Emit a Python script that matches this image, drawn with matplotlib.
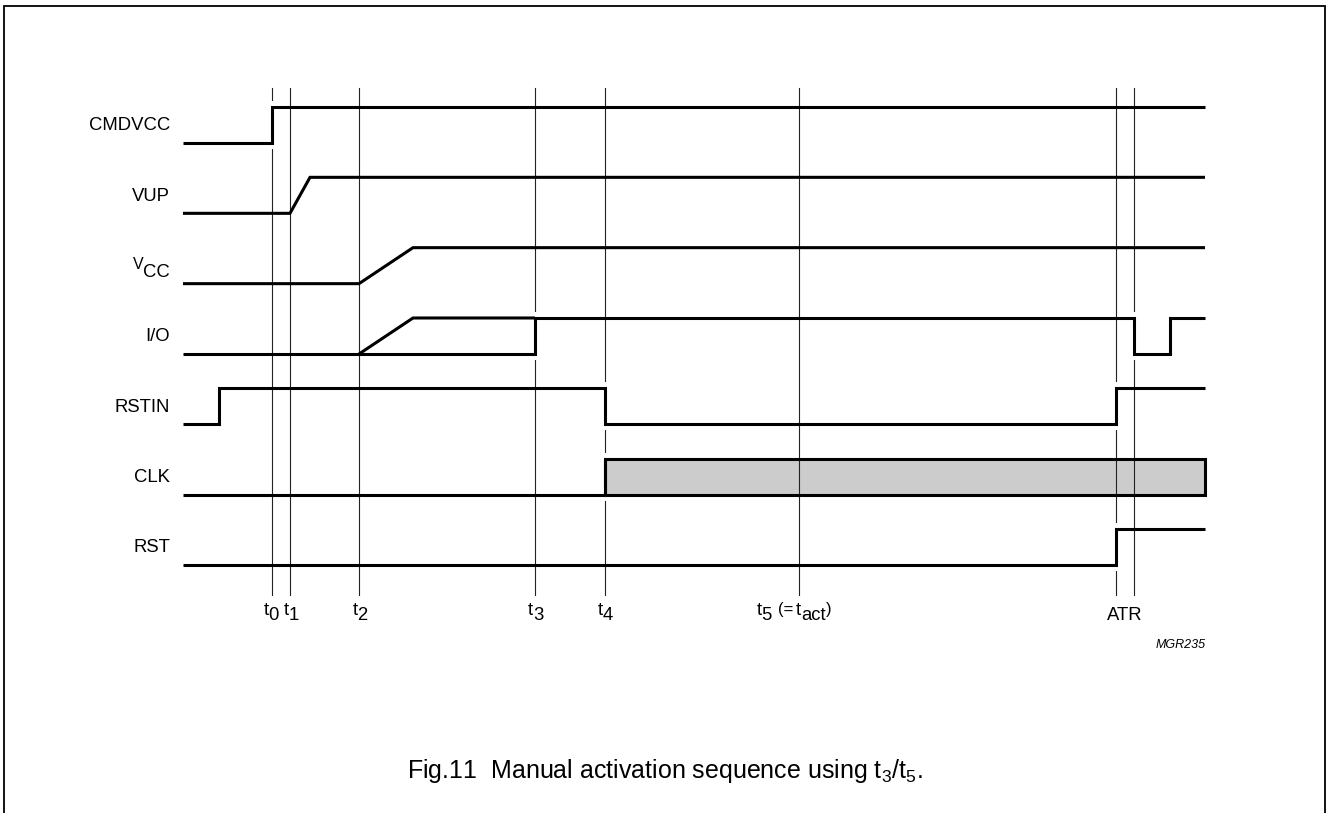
import numpy as np
import matplotlib.pyplot as plt
from matplotlib.patches import Rectangle
from matplotlib.transforms import offset_copy

plt.rcParams['font.family'] = ['Liberation Sans', 'DejaVu Sans']
plt.rcParams['mathtext.fontset'] = 'custom'
plt.rcParams['mathtext.rm'] = 'Liberation Sans'
plt.rcParams['mathtext.it'] = 'Liberation Sans:italic'

# signal names (top to bottom); V_CC is built from pieces below
signals = ['CMDVCC', 'VUP', None, 'I/O', 'RSTIN', 'CLK', 'RST']

# event times (horizontal position units of the diagram)
t_marks = [272, 290, 359, 535, 605, 799, 1116, 1134]
t_names = ['0', '1', '2', '3', '4']
t_name_x = [271, 291, 360, 536, 605]

t_start = 183
t_end = 1205

# waveforms: (times, levels) 0 = low, 1 = high
cmdvcc_t = [t_start, 272, 272, t_end]
cmdvcc_v = [0, 0, 1, 1]
vup_t = [t_start, 290, 310, t_end]
vup_v = [0, 0, 1, 1]
vcc_t = [t_start, 359, 413, t_end]
vcc_v = [0, 0, 1, 1]
io_t = [t_start, 535, 535, 1134, 1134, 1170, 1170, t_end]
io_v = [0, 0, 1, 1, 0, 0, 1, 1]
io_ramp_t = [359, 413, 535]
io_ramp_v = [0, 1, 1]
rstin_t = [t_start, 219, 219, 605, 605, 1116, 1116, t_end]
rstin_v = [0, 0, 1, 1, 0, 0, 1, 1]
clk_t = [t_start, 605, 605]
clk_v = [0, 0, 1]
clk_active = [605, t_end]
rst_t = [t_start, 1116, 1116, t_end]
rst_v = [0, 0, 1, 1]

waves = [[(cmdvcc_t, cmdvcc_v)],
         [(vup_t, vup_v)],
         [(vcc_t, vcc_v)],
         [(io_t, io_v), (io_ramp_t, io_ramp_v)],
         [(rstin_t, rstin_v)],
         [(clk_t, clk_v)],
         [(rst_t, rst_v)]]

row0 = 143
row_step = 70.33
amp = 36
fs = 13.3

fig = plt.figure(figsize=(13.28, 8.13), dpi=100)
ax = fig.add_axes([0, 0, 1, 1])
ax.set_xlim(0, 1328)
ax.set_ylim(813, 0)
ax.axis('off')
renderer = fig.canvas.get_renderer()


def rich_text(x, y, parts, ha='center'):
    # parts: (string, fontsize, raise in px, gap after in px)
    objs = []
    total = 0
    for s, size, rise, gap in parts:
        t = ax.text(x, y, s, fontsize=size, ha='left', va='baseline')
        w = t.get_window_extent(renderer).width
        objs.append((t, total, rise))
        total += w + gap
    total -= parts[-1][3]
    shift = {'center': -total / 2, 'right': -total, 'left': 0}[ha]
    for t, off, rise in objs:
        t.set_transform(offset_copy(ax.transData, fig=fig, x=off + shift, y=rise, units='dots'))


# frame
ax.plot([4, 4, 1325, 1325], [813, 6, 6, 813], color='black', lw=1.3,
        solid_joinstyle='miter', zorder=1)

# vertical time markers
for x in t_marks:
    ax.plot([x, x], [88, 595], color='#222222', lw=0.8, zorder=4)

for i, name in enumerate(signals):
    base = row0 + row_step * i
    if name is None:
        rich_text(170, base - 7, [('V', 11.5, 8, 0), ('CC', fs, 0, 0)], ha='right')
    else:
        ax.text(170, base - amp / 2 + 1, name, ha='right', va='center', fontsize=fs)
    for tt, vv in waves[i]:
        y = base - amp * np.array(vv)
        # small white break in the marker line around edges that sit on it
        for k in range(len(tt) - 1):
            if tt[k] == tt[k + 1] and tt[k] in t_marks:
                ax.plot([tt[k], tt[k]], [base - amp - 6, base + 6], color='white',
                        lw=2.6, solid_capstyle='butt', zorder=4.5)
        ax.plot(tt, y, color='black', lw=2.2,
                solid_joinstyle='miter', solid_capstyle='butt', zorder=5)

# clock active region
clk_base = row0 + row_step * 5
ax.add_patch(Rectangle((clk_active[0], clk_base - amp), clk_active[1] - clk_active[0], amp,
                       facecolor='#cccccc', edgecolor='none', zorder=3))
ax.add_patch(Rectangle((clk_active[0], clk_base - amp), clk_active[1] - clk_active[0], amp,
                       facecolor='none', edgecolor='black', lw=2.2, joinstyle='miter', zorder=5))

# time labels
for x, n in zip(t_name_x, t_names):
    rich_text(x, 620, [('t', fs, 5, 0), (n, fs, 0, 0)])
rich_text(794, 620, [('t', fs, 5, 0), ('5', fs, 0, 6), ('(=', 12, 6, 3),
                     ('t', fs, 5, 0), ('act', fs, 0, 0), (')', 12, 6, 0)])
ax.text(1125, 620, 'ATR', ha='center', va='baseline', fontsize=fs)

ax.text(1206, 645, 'MGR235', ha='right', va='center', fontsize=9, style='italic')
ax.text(665, 778, r'Fig.11  Manual activation sequence using $\mathregular{t_3/t_5}$.',
        ha='center', va='baseline', fontsize=18)

fig.savefig('out.png', dpi=100)
